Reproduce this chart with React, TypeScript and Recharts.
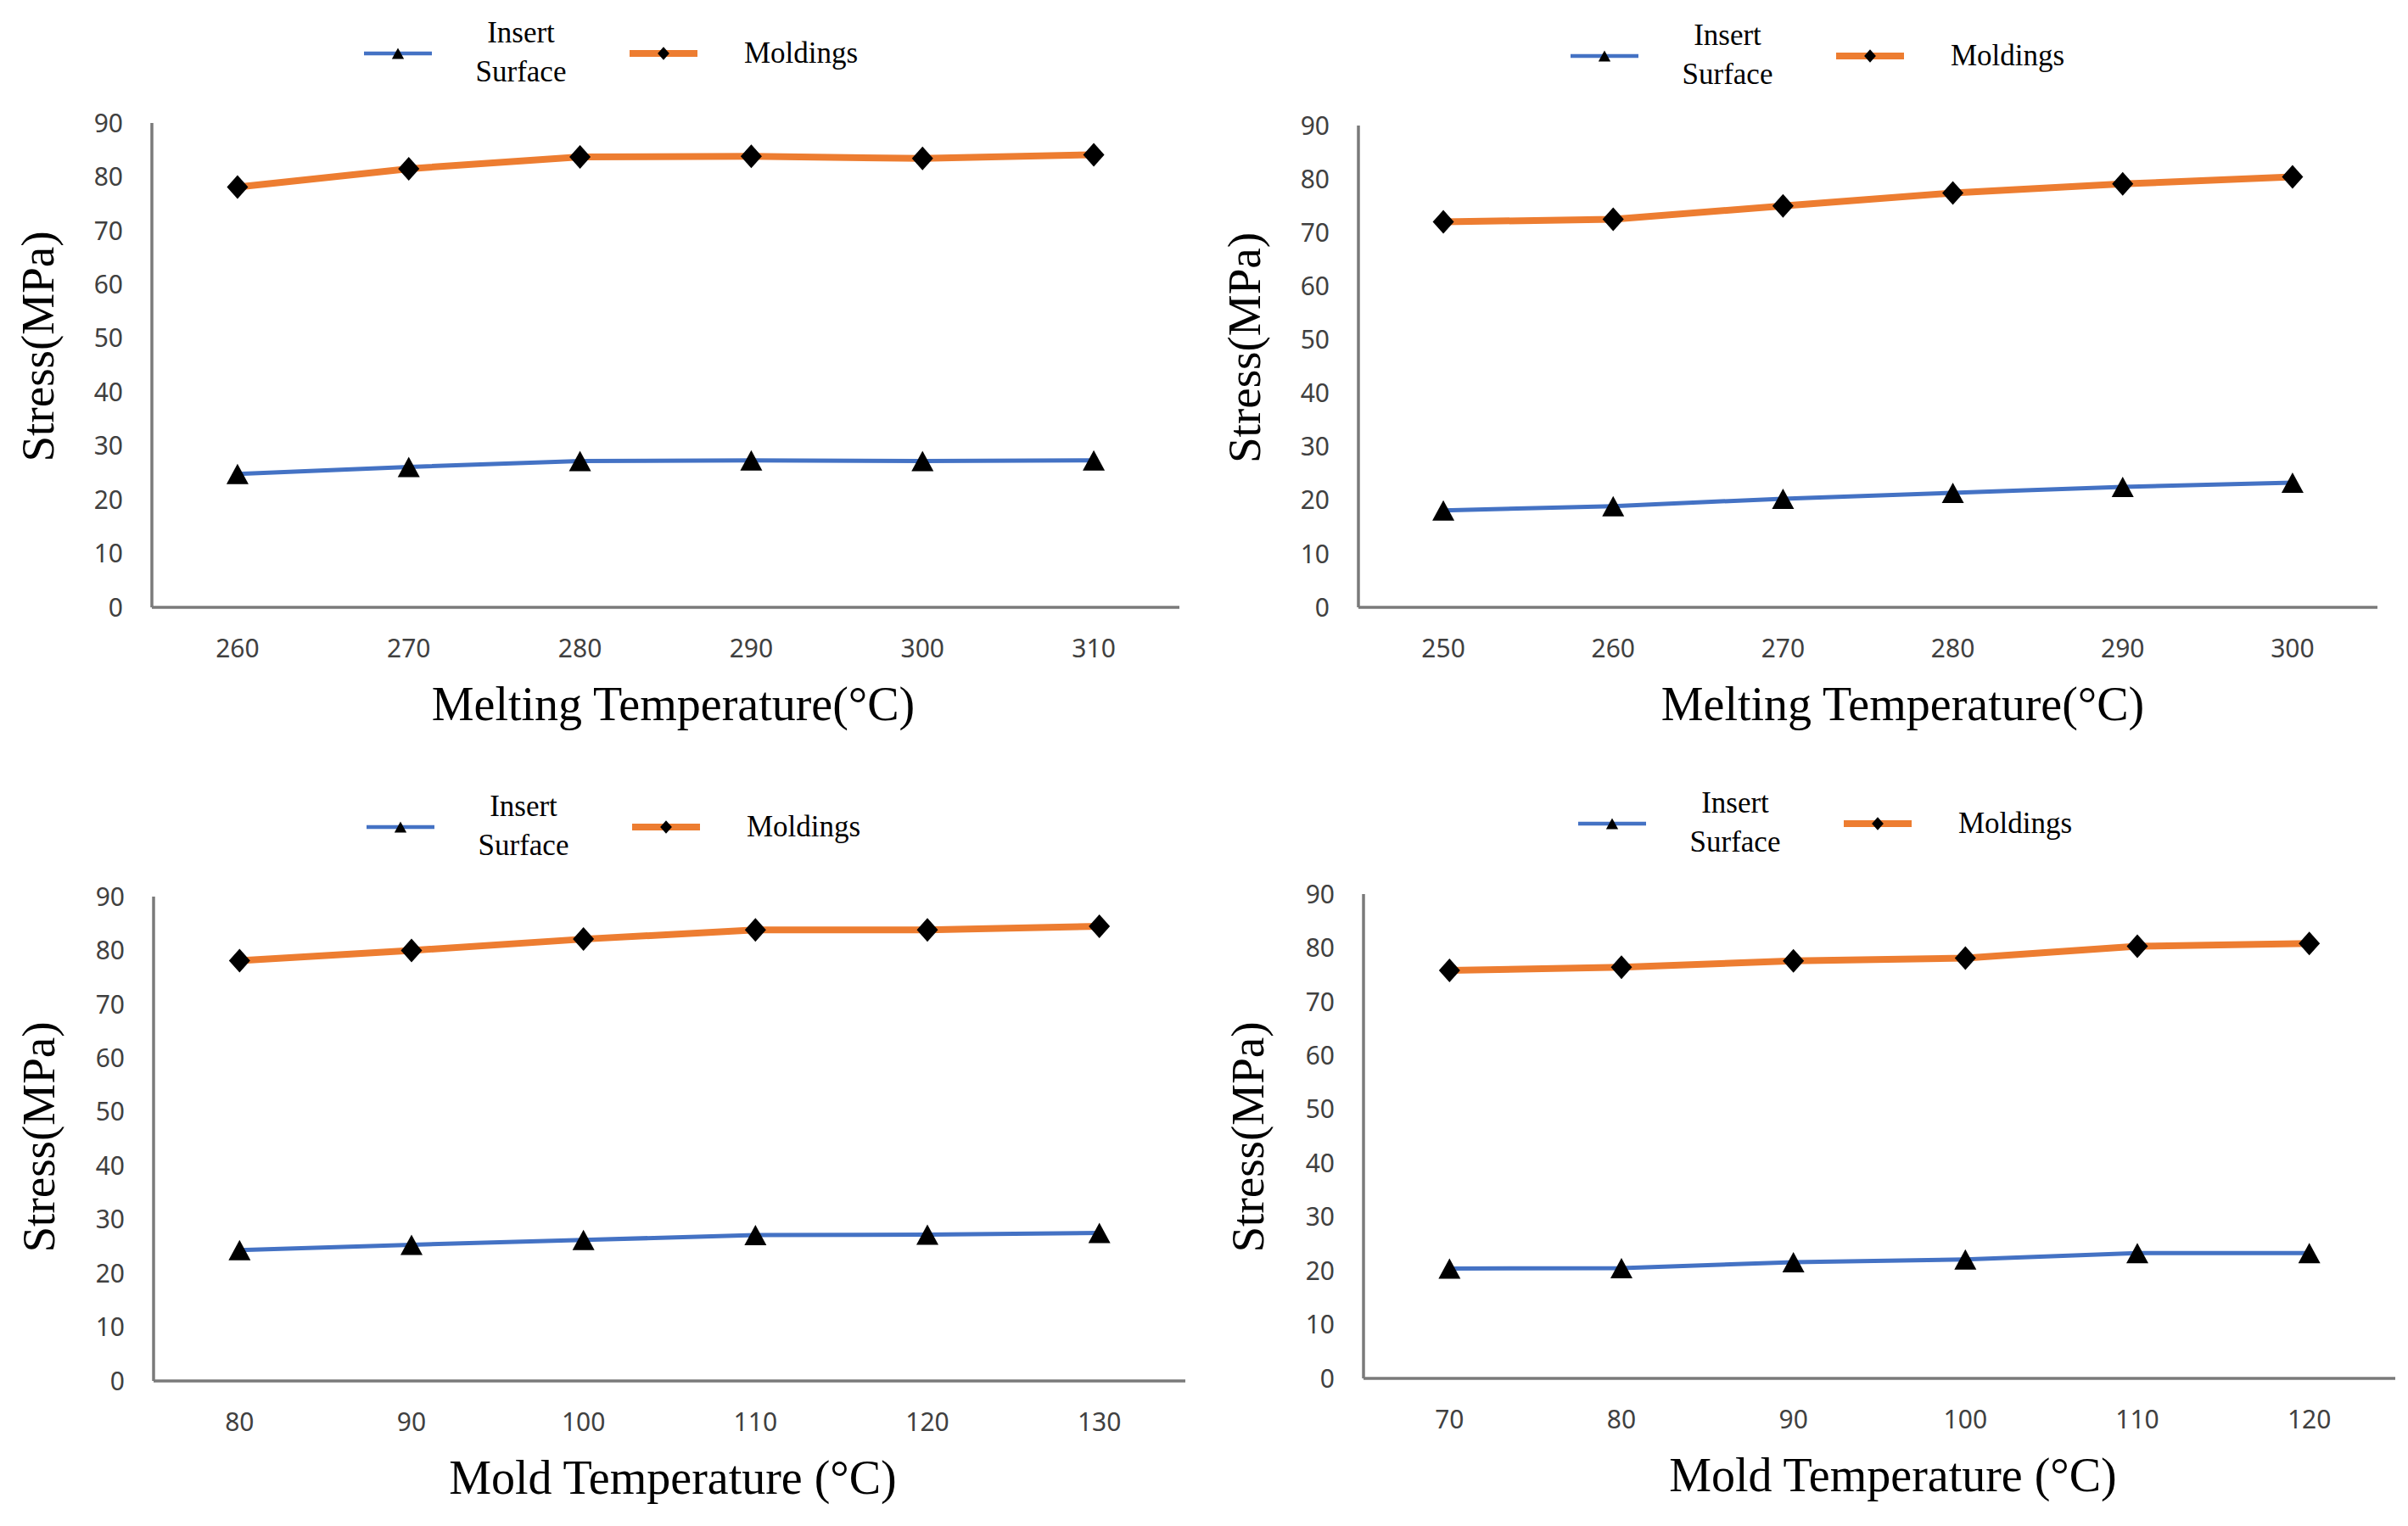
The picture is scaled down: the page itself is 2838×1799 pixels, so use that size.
import React from "react";
import { LineChart, Line, XAxis, YAxis, Legend, Label } from "recharts";

// category labels
const meltTempsA = ["260", "270", "280", "290", "300", "310"];
const meltTempsB = ["250", "260", "270", "280", "290", "300"];
const moldTempsA = ["80", "90", "100", "110", "120", "130"];
const moldTempsB = ["70", "80", "90", "100", "110", "120"];

// stress values (MPa)
const insertMeltA = [24.8, 26.1, 27.2, 27.3, 27.2, 27.3];
const moldingsMeltA = [78.1, 81.5, 83.7, 83.8, 83.4, 84.1];
const insertMeltB = [18.1, 18.9, 20.3, 21.4, 22.5, 23.3];
const moldingsMeltB = [72.0, 72.5, 75.0, 77.4, 79.1, 80.4];
const insertMoldA = [24.3, 25.3, 26.2, 27.1, 27.2, 27.5];
const moldingsMoldA = [78.1, 80.0, 82.1, 83.8, 83.8, 84.5];
const insertMoldB = [20.4, 20.5, 21.6, 22.1, 23.3, 23.3];
const moldingsMoldB = [75.8, 76.4, 77.6, 78.1, 80.3, 80.8];

const yTicks = [0, 10, 20, 30, 40, 50, 60, 70, 80, 90];

const BLUE = "#4472C4";
const ORANGE = "#ED7D31";
const AXIS = "#7a7a7a";
const TICK = "#404040";
const SERIF = "'Liberation Serif', 'Times New Roman', serif";
const SANS = "'Noto Sans', 'Open Sans', sans-serif";

const W = 1419;
const H = 900;
const XH = 150;

const SERIES = [
  { key: "insert", name: "Insert Surface", lines: ["Insert", "Surface"], color: BLUE, width: 5, marker: "triangle", textDx: 185, anchor: "middle" },
  { key: "moldings", name: "Moldings", lines: ["Moldings"], color: ORANGE, width: 8, marker: "diamond", textDx: 135, anchor: "start" },
];

function Marker({ type, cx, cy, s = 1 }: { type: string; cx: number; cy: number; s?: number }) {
  if (type === "triangle") {
    const hw = 13 * s, h = 12 * s;
    return <path d={`M${cx},${cy - h}L${cx + hw},${cy + h}L${cx - hw},${cy + h}Z`} fill="#000" />;
  }
  const hw = 12.5 * s, h = 14 * s;
  return <path d={`M${cx},${cy - h}L${cx + hw},${cy}L${cx},${cy + h}L${cx - hw},${cy}Z`} fill="#000" />;
}

const dotFor = (type: string) => (p: any) => {
  if (p.cx == null || p.cy == null) return <g key={`e-${p.index}`} />;
  return (
    <g key={`m-${type}-${p.index}`}>
      <Marker type={type} cx={p.cx} cy={p.cy} />
    </g>
  );
};

const legendFor = (lx: number, ly: number) => (props: any) => {
  const payload = props.payload || [];
  return (
    <svg width={W} height={140} style={{ overflow: "visible", display: "block" }}>
      {payload.map((entry: any, i: number) => {
        const s = SERIES.find((d) => d.key === entry.dataKey) || SERIES[i];
        const x0 = lx + i * 313;
        const lineGap = 46;
        const top = ly - ((s.lines.length - 1) * lineGap) / 2 - (s.lines.length > 1 ? 2 : 1);
        return (
          <g key={s.key}>
            <line x1={x0} x2={x0 + 80} y1={ly} y2={ly} stroke={s.color} strokeWidth={s.width === 5 ? 4.5 : 8} />
            <Marker type={s.marker} cx={x0 + 40} cy={ly} s={0.55} />
            {s.lines.map((t, k) => (
              <text
                key={t}
                x={x0 + s.textDx}
                y={top + k * lineGap}
                textAnchor={s.anchor as any}
                dominantBaseline="central"
                fontFamily={SERIF}
                fontSize={35}
                fill="#000"
              >
                {t}
              </text>
            ))}
          </g>
        );
      })}
    </svg>
  );
};

type PanelProps = {
  left: number;
  top: number;
  cats: string[];
  insert: number[];
  moldings: number[];
  xTitle: string;
  plot: [number, number, number, number];
  legend: [number, number];
  xdx: number;
  ydy: number;
  yx: number;
};

function Panel({ left, top, cats, insert, moldings, xTitle, plot, legend, xdx, ydy, yx }: PanelProps) {
  const [pl, pr, pt, pb] = plot;
  const data = cats.map((t, i) => ({ t, insert: insert[i], moldings: moldings[i] }));
  const half = (pr - pl) / cats.length / 2;
  return (
    <div style={{ position: "absolute", left, top, width: W, height: H }}>
      <LineChart
        width={W}
        height={H}
        data={data}
        margin={{ top: pt, right: W - pr, bottom: H - pb - XH, left: 0 }}
      >
        <XAxis
          dataKey="t"
          type="category"
          height={XH}
          padding={{ left: half, right: half }}
          tickLine={false}
          tickSize={0}
          tickMargin={38}
          axisLine={{ stroke: AXIS, strokeWidth: 3.5 }}
          tick={{ fill: TICK, fontSize: 30, fontFamily: SANS }}
          interval={0}
        >
          <Label
            content={(p: any) => {
              const vb = p.viewBox || {};
              return (
                <text
                  x={vb.x + vb.width / 2 + xdx}
                  y={vb.y + 114}
                  textAnchor="middle"
                  dominantBaseline="central"
                  fontFamily={SERIF}
                  fontSize={56}
                  fill="#000"
                >
                  {xTitle}
                </text>
              );
            }}
          />
        </XAxis>
        <YAxis
          width={pl}
          domain={[0, 90]}
          ticks={yTicks}
          interval={0}
          tickLine={false}
          tickSize={0}
          tickMargin={34}
          axisLine={{ stroke: AXIS, strokeWidth: 3.5 }}
          tick={{ fill: TICK, fontSize: 30, fontFamily: SANS }}
        >
          <Label
            content={(p: any) => {
              const vb = p.viewBox || {};
              const cy = vb.y + vb.height / 2 + ydy;
              return (
                <text
                  x={yx}
                  y={cy}
                  transform={`rotate(-90 ${yx} ${cy})`}
                  textAnchor="middle"
                  dominantBaseline="central"
                  fontFamily={SERIF}
                  fontSize={55}
                  fill="#000"
                >
                  Stress(MPa)
                </text>
              );
            }}
          />
        </YAxis>
        <Legend
          layout="horizontal"
          verticalAlign="middle"
          align="center"
          wrapperStyle={{ position: "absolute", left: 0, top: 0, width: W, height: 140 }}
          content={legendFor(legend[0], legend[1])}
        />
        {SERIES.map((s) => (
          <Line
            key={s.key}
            type="linear"
            dataKey={s.key}
            name={s.name}
            stroke={s.color}
            strokeWidth={s.width}
            strokeLinejoin="round"
            dot={dotFor(s.marker)}
            activeDot={false}
            isAnimationActive={false}
          />
        ))}
      </LineChart>
    </div>
  );
}

export default function App() {
  return (
    <div style={{ position: "absolute", left: 0, top: 0, width: 2838, height: 1799, background: "#fff" }}>
      <Panel
        left={0}
        top={0}
        cats={meltTempsA}
        insert={insertMeltA}
        moldings={moldingsMeltA}
        xTitle="Melting Temperature(°C)"
        plot={[179, 1390, 145, 716]}
        legend={[429, 63]}
        xdx={9}
        ydy={-22}
        yx={44}
      />
      <Panel
        left={1419}
        top={0}
        cats={meltTempsB}
        insert={insertMeltB}
        moldings={moldingsMeltB}
        xTitle="Melting Temperature(°C)"
        plot={[182, 1383, 148, 716]}
        legend={[432, 66]}
        xdx={41}
        ydy={-22}
        yx={47}
      />
      <Panel
        left={0}
        top={900}
        cats={moldTempsA}
        insert={insertMoldA}
        moldings={moldingsMoldA}
        xTitle="Mold Temperature (°C)"
        plot={[181, 1397, 157, 728]}
        legend={[432, 75]}
        xdx={4}
        ydy={-2}
        yx={45}
      />
      <Panel
        left={1419}
        top={900}
        cats={moldTempsB}
        insert={insertMoldB}
        moldings={moldingsMoldB}
        xTitle="Mold Temperature (°C)"
        plot={[188, 1404, 154, 725]}
        legend={[441, 71]}
        xdx={16}
        ydy={1}
        yx={51}
      />
    </div>
  );
}
